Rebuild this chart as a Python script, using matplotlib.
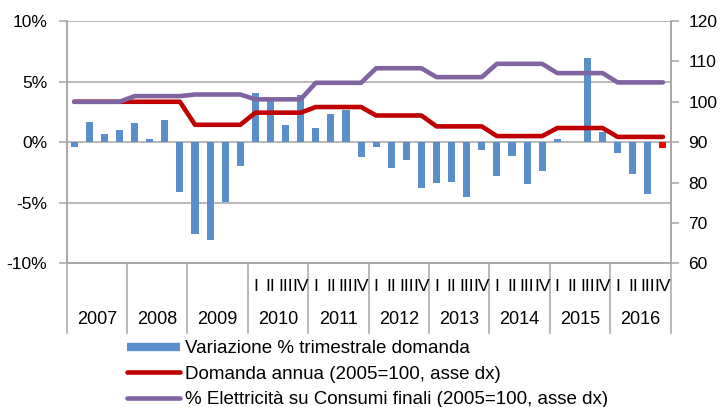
# Domanda elettrica: variazione trimestrale e indici annui (2005=100)
import numpy as np
import matplotlib.pyplot as plt
from matplotlib.lines import Line2D
import matplotlib.transforms as mtransforms

plt.rcParams['font.family'] = ['Liberation Sans', 'DejaVu Sans']

# Dati
anni = ['2007', '2008', '2009', '2010', '2011', '2012', '2013', '2014', '2015', '2016']
trimestri = ['I', 'II', 'III', 'IV']
anni_con_trimestri = ['2010', '2011', '2012', '2013', '2014', '2015', '2016']

# variazione % trimestrale (asse sx), un valore per trimestre 2007-2016
variazione = [
    -0.4, 1.7, 0.66, 1.0,
    1.57, 0.28, 1.8, -4.1,
    -7.6, -8.1, -4.96, -1.93,
    4.05, 3.5, 1.4, 3.9,
    1.13, 2.29, 2.67, -1.24,
    -0.36, -2.15, -1.5, -3.8,
    -3.36, -3.3, -4.5, -0.63,
    -2.8, -1.18, -3.44, -2.42,
    0.28, 0.0, 6.94, 0.83,
    -0.88, -2.62, -4.3, -0.5,
]

# Domanda annua (2005=100, asse dx)
domanda = [
    100.0, 100.0, 100.0, 100.0,
    100.0, 100.0, 100.0, 100.0,
    94.3, 94.3, 94.3, 94.3,
    97.3, 97.3, 97.3, 97.3,
    98.7, 98.7, 98.7, 98.7,
    96.6, 96.6, 96.6, 96.6,
    93.9, 93.9, 93.9, 93.9,
    91.5, 91.5, 91.5, 91.5,
    93.5, 93.5, 93.5, 93.5,
    91.3, 91.3, 91.3, 91.3,
]

# % Elettricita su consumi finali (2005=100, asse dx)
elettricita = [
    100.0, 100.0, 100.0, 100.0,
    101.4, 101.4, 101.4, 101.4,
    101.8, 101.8, 101.8, 101.8,
    100.6, 100.6, 100.6, 100.6,
    104.7, 104.7, 104.7, 104.7,
    108.3, 108.3, 108.3, 108.3,
    106.1, 106.1, 106.1, 106.1,
    109.4, 109.4, 109.4, 109.4,
    107.1, 107.1, 107.1, 107.1,
    104.8, 104.8, 104.8, 104.8,
]

# colori
blu = '#5B8FCC'
rosso = '#C00000'
viola = '#8064A2'
grigio = '#A6A6A6'

x = np.arange(len(variazione))
colori_barre = [blu] * (len(variazione) - 1) + ['#FF0000']

fig = plt.figure(figsize=(7.2, 4.07), dpi=100)
ax = fig.add_axes([66.7 / 720, 143.7 / 407, 603.8 / 720, 242.3 / 407])

# griglia orizzontale
ax.set_ylim(-10, 10)
ax.set_yticks([-10, -5, 0, 5, 10])
ax.set_yticklabels(['-10%', '-5%', '0%', '5%', '10%'])
ax.grid(axis='y', color=grigio, linewidth=1.1)
ax.set_axisbelow(True)

# barre
ax.bar(x, variazione, width=0.47, color=colori_barre, zorder=2)
ax.set_xlim(-0.5, len(variazione) - 0.5)
ax.set_xticks([])

for s in ax.spines.values():
    s.set_color(grigio)
    s.set_linewidth(1.1)
ax.spines['top'].set_visible(False)
ax.tick_params(axis='y', direction='out', length=6, width=1.1, color=grigio,
               labelsize=12.5, pad=8)

# asse destro
ax2 = ax.twinx()
ax2.set_ylim(60, 120)
ax2.set_yticks([60, 70, 80, 90, 100, 110, 120])
ax2.plot(x, domanda, color=rosso, linewidth=3.3, solid_joinstyle='round',
         solid_capstyle='round')
ax2.plot(x, elettricita, color=viola, linewidth=3.3, solid_joinstyle='round',
         solid_capstyle='round')
for s in ax2.spines.values():
    s.set_color(grigio)
    s.set_linewidth(1.1)
ax2.spines['top'].set_visible(False)
ax2.tick_params(axis='y', direction='out', length=6, width=1.1, color=grigio,
                labelsize=12.5, pad=7)

# asse categorie a due livelli (anni e trimestri)
trans = mtransforms.blended_transform_factory(ax.transData, ax.transAxes)
for k in range(len(anni) + 1):
    xb = 4 * k - 0.5
    ax.plot([xb, xb], [0, -0.288], transform=trans, clip_on=False,
            color=grigio, linewidth=1.1)
for k, anno in enumerate(anni):
    ax.text(4 * k + 1.5, -0.234, anno, transform=trans, ha='center',
            va='center', fontsize=13)
    if anno in anni_con_trimestri:
        for q, lab in enumerate(trimestri):
            ax.text(4 * k + q, -0.094, lab, transform=trans, ha='center',
                    va='center', fontsize=12.5)

# legenda
handles = [
    Line2D([], [], color=blu, linewidth=6, solid_capstyle='butt'),
    Line2D([], [], color=rosso, linewidth=3.3, solid_capstyle='round'),
    Line2D([], [], color=viola, linewidth=3.3, solid_capstyle='round'),
]
labels = [
    'Variazione % trimestrale domanda',
    'Domanda annua (2005=100, asse dx)',
    '% Elettricità su Consumi finali (2005=100, asse dx)',
]
fig.legend(handles, labels, loc='upper left', bbox_to_anchor=(127 / 720, 1 - 340 / 407),
           frameon=False, fontsize=13.5, handlelength=2.8, handletextpad=0.3,
           labelspacing=0.45, borderpad=0, borderaxespad=0)

plt.savefig('out.png', dpi=100)
